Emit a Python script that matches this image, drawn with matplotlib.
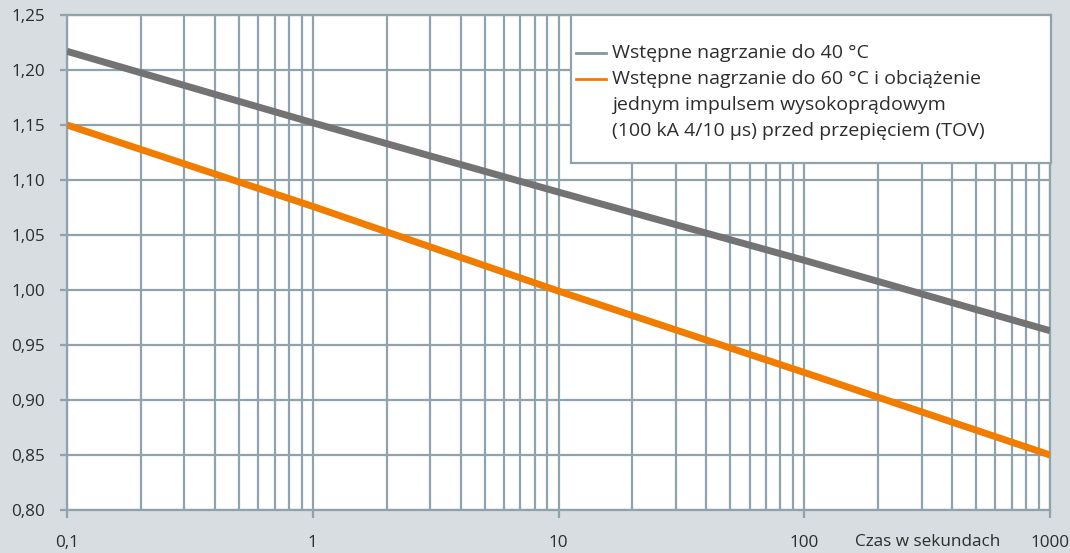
import matplotlib.pyplot as plt
from matplotlib.patches import Rectangle
from matplotlib.ticker import FixedLocator, LogLocator, NullFormatter

plt.rcParams['font.family'] = ['Open Sans', 'DejaVu Sans']

# czas [s] i wartosci krzywych
czas = [0.1, 1, 10, 100, 1000]
krzywa_40 = [1.217, 1.152, 1.089, 1.027, 0.963]
krzywa_60 = [1.150, 1.076, 0.999, 0.925, 0.850]

x_ticks = [0.1, 1, 10, 100, 1000]
x_labels = ['0,1', '1', '10', '100', '1000']
y_ticks = [0.80, 0.85, 0.90, 0.95, 1.00, 1.05, 1.10, 1.15, 1.20, 1.25]

etykieta_40 = 'Wstępne nagrzanie do 40 °C'
etykieta_60 = ['Wstępne nagrzanie do 60 °C i obciążenie',
               'jednym impulsem wysokoprądowym',
               '(100 kA 4/10 µs) przed przepięciem (TOV)']

bg = '#d7dde1'
grid_c = '#8fa3ad'
text_c = '#2d2d2d'
W, H = 1070, 553


def fx(px):
    return px / W


def fy(py):
    return 1 - py / H


fig = plt.figure(figsize=(10.7, 5.53), dpi=100, facecolor=bg)
ax = fig.add_axes([fx(67), fy(510), fx(983), 495 / H])
ax.set_facecolor('white')

ax.plot(czas, krzywa_40, color='#737373', linewidth=5, solid_capstyle='butt', zorder=3)
ax.plot(czas, krzywa_60, color='#f07d00', linewidth=5, solid_capstyle='butt', zorder=3)

ax.set_xscale('log')
ax.set_xlim(0.1, 1000)
ax.set_ylim(0.80, 1.25)
ax.xaxis.set_major_locator(FixedLocator(x_ticks))
ax.set_xticklabels(x_labels)
ax.xaxis.set_minor_locator(LogLocator(base=10, subs=range(2, 10)))
ax.xaxis.set_minor_formatter(NullFormatter())
ax.set_yticks(y_ticks)
ax.set_yticklabels([f'{v:.2f}'.replace('.', ',') for v in y_ticks])

ax.grid(True, which='both', axis='x', color=grid_c, linewidth=1.6, zorder=1)
ax.grid(True, which='major', axis='y', color=grid_c, linewidth=1.6, zorder=1)
for s in ax.spines.values():
    s.set_color(grid_c)
    s.set_linewidth(1.6)

ax.tick_params(axis='both', which='major', width=1.6, color=grid_c,
               labelsize=12.3, labelcolor=text_c)
ax.tick_params(axis='x', which='major', length=6, pad=12)
ax.tick_params(axis='y', which='major', length=5, pad=11)
ax.tick_params(axis='x', which='minor', length=0)

fig.text(fx(928), fy(542), 'Czas w sekundach', fontsize=12.3, color=text_c,
         ha='center', va='center')

# legenda
fig.add_artist(Rectangle((fx(571), fy(163)), fx(480), 148 / H, transform=fig.transFigure,
                         facecolor='white', edgecolor=grid_c, linewidth=1.6, zorder=5))
fig.add_artist(plt.Line2D([fx(576), fx(606)], [fy(53), fy(53)], color='#7f97a3',
                          linewidth=2, transform=fig.transFigure, zorder=6))
fig.add_artist(plt.Line2D([fx(576), fx(606)], [fy(79), fy(79)], color='#f07d00',
                          linewidth=2, transform=fig.transFigure, zorder=6))
for i, linia in enumerate([etykieta_40] + etykieta_60):
    fig.text(fx(612), fy(53 + 26 * i), linia, fontsize=14, color=text_c,
             ha='left', va='center', zorder=6)

fig.savefig('out.png', dpi=100, facecolor=bg)
